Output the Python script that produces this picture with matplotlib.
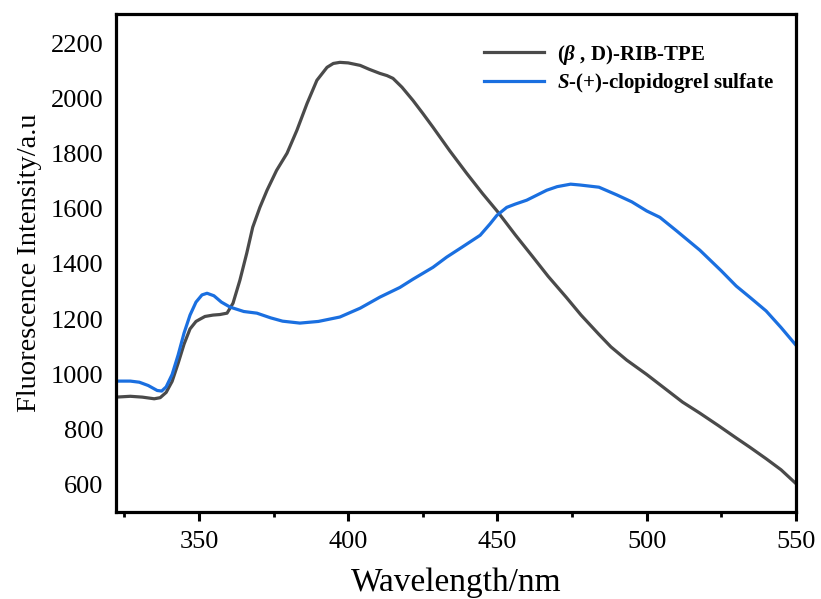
import numpy as np
import matplotlib
matplotlib.use('Agg')
import matplotlib.pyplot as plt
from matplotlib.ticker import MultipleLocator

plt.rcParams['font.family'] = ['Liberation Serif', 'DejaVu Serif']
plt.rcParams['mathtext.fontset'] = 'custom'
plt.rcParams['mathtext.rm'] = 'Liberation Serif:bold'
plt.rcParams['mathtext.it'] = 'Liberation Serif:bold:italic'
plt.rcParams['mathtext.bf'] = 'Liberation Serif:bold'

# ---- data ----
wl_tpe = [322.2, 327, 331, 335, 337, 339, 341, 343, 345, 347, 349, 350.3, 352, 354.7, 357,
          359.4, 361.4, 363.7, 366, 368, 370.4, 372.8, 376, 379.5, 382.8, 386.2, 389.5, 392.9,
          395, 397.2, 400, 404, 407, 410.6, 413, 415, 418, 421.7, 425, 428.4, 434, 439.7,
          445, 450, 456, 461.9, 467, 473, 478, 484, 488, 493.3, 500, 506, 512, 517.8, 524,
          530, 534.5, 540, 545, 550]
fl_tpe = [918, 921, 918, 912, 916, 935, 975, 1040, 1110, 1165, 1192, 1200, 1210, 1215, 1217,
          1222, 1258, 1341, 1439, 1533, 1605, 1667, 1739, 1801, 1884, 1981, 2065, 2112,
          2126, 2130, 2128, 2119, 2105, 2090, 2082, 2072, 2040, 1992, 1945, 1895, 1810, 1728,
          1655, 1590, 1505, 1425, 1355, 1280, 1215, 1145, 1100, 1052, 1000, 950, 900, 860, 815,
          770, 737, 695, 655, 605]

wl_clo = [322.2, 327, 330, 333, 336, 337.5, 339, 341, 343, 345, 347, 349, 351, 352.7, 355,
          357.5, 360.4, 365, 369.4, 374, 378, 383.8, 390, 397.2, 404, 410.6, 417.3, 421.7,
          428.4, 433, 438, 444.2, 447.5, 449.8, 453.1, 456, 459.8, 466.5, 470, 474.5, 477.6,
          484, 490, 495, 500, 504.4, 510, 517.8, 525, 530, 534.5, 540, 545, 550]
fl_clo = [976, 976, 972, 960, 942, 940, 955, 1000, 1070, 1150, 1215, 1262, 1288, 1294, 1285,
          1262, 1244, 1228, 1222, 1205, 1193, 1186, 1192, 1208, 1240, 1280, 1315, 1345,
          1388, 1425, 1460, 1504, 1545, 1576, 1605, 1617, 1631, 1667, 1680, 1689, 1686,
          1678, 1650, 1625, 1592, 1569, 1520, 1450, 1375, 1320, 1280, 1230, 1170, 1106]

labels = [r'($\beta$ , D)-RIB-TPE', r'$S$-(+)-clopidogrel sulfate']
colors = ['#4a4a4a', '#1a6fe0']

fig = plt.figure(figsize=(8.21, 5.99), dpi=100)
ax = fig.add_axes([0.1413, 0.1452, 0.8282, 0.8314])

ax.plot(wl_tpe, fl_tpe, color=colors[0], lw=2.3, label=labels[0])
ax.plot(wl_clo, fl_clo, color=colors[1], lw=2.3, label=labels[1])

ax.set_xlim(322.2, 550)
ax.set_ylim(502, 2305)
ax.xaxis.set_major_locator(MultipleLocator(50))
ax.xaxis.set_minor_locator(MultipleLocator(25))
ax.yaxis.set_major_locator(MultipleLocator(200))

for sp in ax.spines.values():
    sp.set_linewidth(2.3)
    sp.set_color('black')

ax.tick_params(axis='x', which='major', direction='out', length=6.5, width=2.2,
               labelsize=19, pad=7)
ax.tick_params(axis='x', which='minor', direction='out', length=3.5, width=2.0)
ax.tick_params(axis='y', which='both', length=0, labelsize=19, pad=9)

ax.set_xlabel('Wavelength/nm', fontsize=24, labelpad=10.5)
ax.set_ylabel('Fluorescence Intensity/a.u', fontsize=20.5, labelpad=6)

leg = ax.legend(loc='upper right', frameon=False,
                handlelength=2.9, handletextpad=0.6, labelspacing=0.22,
                bbox_to_anchor=(0.995, 0.98), prop={'weight': 'bold', 'size': 15})

fig.savefig('out.png', dpi=100)
